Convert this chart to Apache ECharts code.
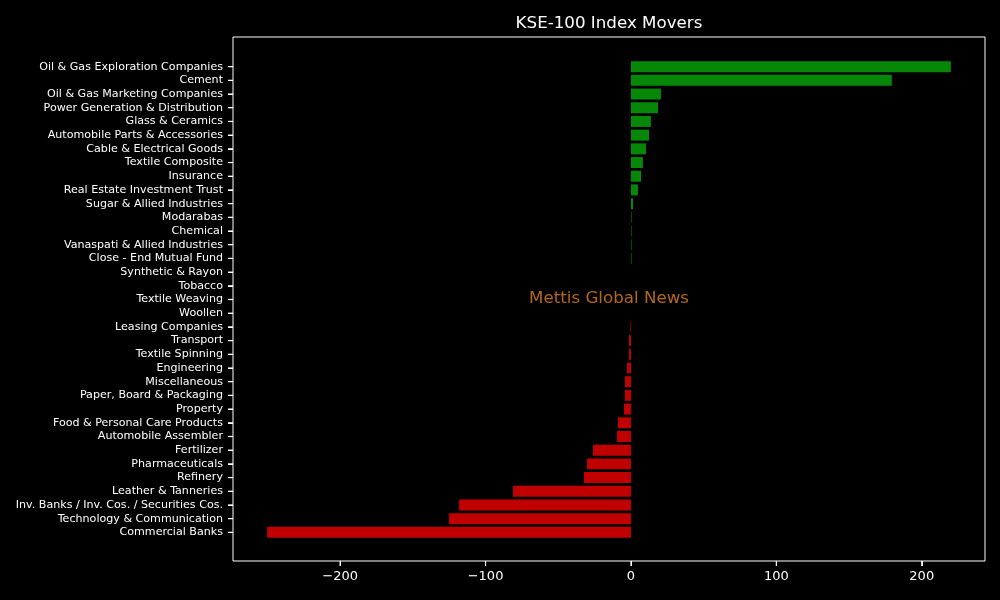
<!DOCTYPE html>
<html lang="en">
<head>
    <meta charset="UTF-8">
    <title>KSE-100 Index Movers</title>
    <style>
        html, body { margin: 0; padding: 0; background: #000; }
        #main { width: 1000px; height: 600px; }
    </style>
</head>
<body>
<div id="main"></div>
<script src="https://cdn.jsdelivr.net/npm/echarts@6/dist/echarts.min.js"></script>
<script>
    // sectors, top to bottom
    var sectors = [
        'Oil & Gas Exploration Companies', 'Cement', 'Oil & Gas Marketing Companies',
        'Power Generation & Distribution', 'Glass & Ceramics', 'Automobile Parts & Accessories',
        'Cable & Electrical Goods', 'Textile Composite', 'Insurance', 'Real Estate Investment Trust',
        'Sugar & Allied Industries', 'Modarabas', 'Chemical', 'Vanaspati & Allied Industries',
        'Close - End Mutual Fund', 'Synthetic & Rayon', 'Tobacco', 'Textile Weaving', 'Woollen',
        'Leasing Companies', 'Transport', 'Textile Spinning', 'Engineering', 'Miscellaneous',
        'Paper, Board & Packaging', 'Property', 'Food & Personal Care Products',
        'Automobile Assembler', 'Fertilizer', 'Pharmaceuticals', 'Refinery',
        'Leather & Tanneries', 'Inv. Banks / Inv. Cos. / Securities Cos.',
        'Technology & Communication', 'Commercial Banks'
    ];
    // index points contributed by each sector
    var points = [
        220.0, 179.4, 20.6, 18.6, 13.7, 12.4, 10.3, 8.2, 6.9, 4.8,
        1.4, 0.4, 0.4, 0.4, 0.4, 0, 0, 0, 0,
        -0.4, -1.4, -1.4, -2.7, -4.1, -4.1, -4.8, -8.9, -9.6,
        -26.1, -30.2, -32.3, -81.1, -118.2, -125.1, -250.2
    ];
    var xTicks = [-200, -100, 0, 100, 200];

    var upColor = '#078707';
    var downColor = '#c00000';
    var xMin = -273.7, xMax = 243.5;

    var barData = [];
    for (var i = 0; i < points.length; i++) {
        barData.push({
            value: points[i],
            itemStyle: { color: points[i] >= 0 ? upColor : downColor }
        });
    }

    var chart = echarts.init(document.getElementById('main'));
    var option = {
        backgroundColor: '#000',
        textStyle: { fontFamily: 'DejaVu Sans' },
        animation: false,
        graphic: [
            {
                type: 'text',
                x: 609, y: 24,
                style: {
                    text: 'KSE-100 Index Movers',
                    fill: '#fff',
                    font: '16.7px "DejaVu Sans"',
                    align: 'center',
                    verticalAlign: 'middle'
                }
            },
            {
                type: 'text',
                x: 609, y: 299,
                z: 10,
                style: {
                    text: 'Mettis Global News',
                    fill: '#b4661a',
                    font: '16.7px "DejaVu Sans"',
                    align: 'center',
                    verticalAlign: 'middle'
                }
            }
        ],
        grid: [
            // frame + x axis
            { left: 233, right: 15, top: 37, bottom: 39, show: true, borderColor: '#fff', borderWidth: 1, backgroundColor: 'transparent' },
            // bars
            { left: 233, right: 15, top: 59.8, bottom: 60.8 }
        ],
        xAxis: [
            {
                gridIndex: 0, type: 'value', min: xMin, max: xMax, position: 'bottom',
                splitLine: { show: false },
                axisLine: { show: false, onZero: false },
                axisTick: { show: true, length: 5, lineStyle: { color: '#fff', width: 1 }, customValues: xTicks },
                axisLabel: {
                    margin: 0, customValues: xTicks, align: 'center',
                    // tick mark drawn as part of the label, number below it
                    formatter: function (v) {
                        var s = v < 0 ? '\u2212' + Math.abs(v) : String(v);
                        return '{t|}\n{n|' + s + '}';
                    },
                    rich: {
                        t: { width: 1.2, height: 5, lineHeight: 5, backgroundColor: '#fff' },
                        n: { color: '#fff', fontSize: 13, lineHeight: 22, fontFamily: 'DejaVu Sans' }
                    }
                }
            },
            {
                gridIndex: 1, type: 'value', min: xMin, max: xMax, show: false,
                splitLine: { show: false }, axisLine: { onZero: false }
            }
        ],
        yAxis: [
            { gridIndex: 0, type: 'value', show: false, splitLine: { show: false }, axisLine: { onZero: false } },
            {
                gridIndex: 1, type: 'category', data: sectors, inverse: true, position: 'left',
                axisLine: { show: false, onZero: false },
                axisTick: { show: true, alignWithLabel: true, interval: 0, length: 5, lineStyle: { color: '#fff', width: 1 } },
                axisLabel: {
                    margin: 0, interval: 0,
                    // label text, a gap, then the tick mark up to the axis
                    formatter: function (name) {
                        return '{n|' + name + '}{g|}{t|}';
                    },
                    rich: {
                        n: { color: '#fff', fontSize: 11.1, fontFamily: 'DejaVu Sans', verticalAlign: 'middle' },
                        g: { width: 5, height: 1, verticalAlign: 'middle' },
                        t: { width: 5, height: 1.2, backgroundColor: '#fff', verticalAlign: 'middle' }
                    }
                }
            }
        ],
        series: [{
            type: 'bar',
            xAxisIndex: 1,
            yAxisIndex: 1,
            data: barData,
            barCategoryGap: '20%'
        }]
    };
    chart.setOption(option);
</script>
</body>
</html>
